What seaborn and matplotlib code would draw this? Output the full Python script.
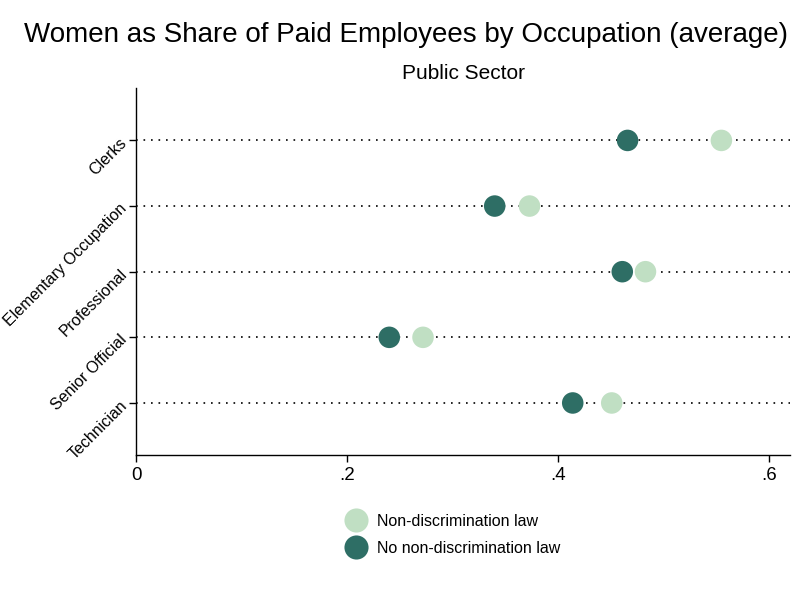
import pandas as pd
import seaborn as sns
import matplotlib.pyplot as plt

# Data
occupations = ["Clerks", "Elementary Occupation", "Professional", "Senior Official", "Technician"]
law_share = [0.555, 0.373, 0.483, 0.272, 0.451]
no_law_share = [0.466, 0.340, 0.461, 0.240, 0.414]
groups = ["Non-discrimination law", "No non-discrimination law"]

df = pd.DataFrame({
    "occupation": occupations * 2,
    "share": law_share + no_law_share,
    "group": [groups[0]] * len(occupations) + [groups[1]] * len(occupations),
})

sns.set_style("white")
plt.rcParams['font.family'] = ['Liberation Sans', 'DejaVu Sans']
plt.rcParams['text.color'] = 'black'
plt.rcParams['xtick.color'] = 'black'
plt.rcParams['ytick.color'] = 'black'

fig, ax = plt.subplots(figsize=(8.11, 5.90), dpi=100)
fig.subplots_adjust(left=0.168, right=0.974, top=0.851, bottom=0.228)

sns.stripplot(data=df, x="share", y="occupation", hue="group", order=occupations,
              hue_order=groups, palette=["#c0dfc3", "#2e6e65"], jitter=False,
              dodge=False, size=15.5, linewidth=0, ax=ax, zorder=3)

# dotted guide lines behind the dots
ax.yaxis.grid(True, linestyle=(0, (1, 3.5)), color="black", linewidth=1.2)
ax.xaxis.grid(False)
ax.set_axisbelow(True)

ax.set_xlim(0, 0.62)
ax.set_ylim(4.8, -0.8)
ax.set_xticks([0, 0.2, 0.4, 0.6])
ax.set_xticklabels(["0", ".2", ".4", ".6"], fontsize=13.5)
ax.set_yticks(range(len(occupations)))
ax.set_yticklabels(occupations, rotation=45, ha="right", va="center",
                   rotation_mode="anchor", fontsize=11.5)
ax.tick_params(axis="both", which="both", length=5, width=1, color="black",
               labelcolor="black", left=True, bottom=True)
ax.set_xlabel("")
ax.set_ylabel("")
sns.despine(ax=ax)
for s in ["left", "bottom"]:
    ax.spines[s].set_color("black")
    ax.spines[s].set_linewidth(1)

fig.suptitle("Women as Share of Paid Employees by Occupation (average)",
             fontsize=20, y=0.962, color="black")
ax.set_title("Public Sector", fontsize=15, pad=6.5, color="black")

leg = ax.legend(loc="upper center", bbox_to_anchor=(0.48, -0.12), frameon=False,
                fontsize=11.5, handletextpad=0.3, labelspacing=0.75,
                markerscale=1.12)

fig.savefig("out.png", dpi=100)
